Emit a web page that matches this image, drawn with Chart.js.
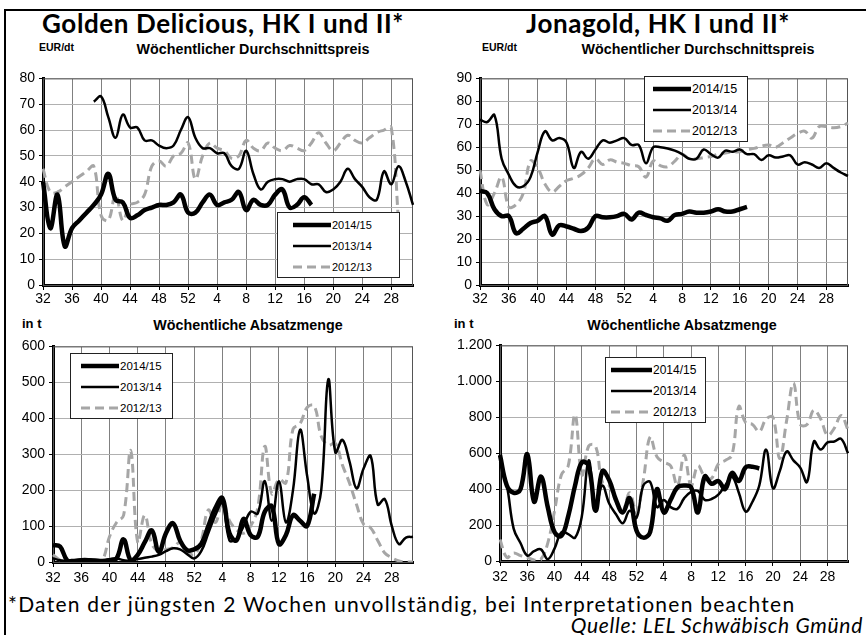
<!DOCTYPE html>
<html>
<head>
<meta charset="utf-8">
<script src="https://cdn.jsdelivr.net/npm/chart.js@4.4.1/dist/chart.umd.min.js"></script>
<style>
  body { margin: 0; background: #fff; }
  #page { position: relative; width: 866px; height: 635px; overflow: hidden; background: #fff; }
  .box { position: absolute; }
  .title { position: absolute; font-family: Lato, "Open Sans", sans-serif; font-weight: bold; font-size: 26px; line-height: 26px; letter-spacing: 0.6px; text-align: center; white-space: nowrap; }
  .unit, .sub { position: absolute; font-family: "Liberation Sans", Arial, sans-serif; font-weight: bold; line-height: 14px; white-space: nowrap; }
  .sub { text-align: center; font-size: 14.3px; }
  .legend { position: absolute; border: 1px solid #222; background: #fff; font-family: "Liberation Sans", Arial, sans-serif; }
  .legend .row { position: absolute; left: 0; right: 0; height: 14px; }
  .legend svg { position: absolute; top: 0; }
  .legend span { position: absolute; top: 0; line-height: 14px; white-space: nowrap; }
  .foot { position: absolute; font-family: Lato, "Open Sans", sans-serif; font-size: 21px; white-space: nowrap; }
</style>
</head>
<body>
<div id="page">
  <div style="position:absolute;left:4px;top:9px;width:2px;height:630px;background:#000"></div>
  <div style="position:absolute;left:4px;top:9px;width:870px;height:2px;background:#000"></div>

  <div class="title" style="left:23px;top:10px;width:400px">Golden Delicious, HK I und II*</div>
  <div class="title" style="left:458px;top:10px;width:400px">Jonagold, HK I und II*</div>

  <div class="unit" style="left:39px;top:40px;font-size:10.5px">EUR/dt</div>
  <div class="sub" style="left:103px;top:42px;width:300px">Wöchentlicher Durchschnittspreis</div>
  <div class="unit" style="left:482px;top:40px;font-size:10.5px">EUR/dt</div>
  <div class="sub" style="left:548px;top:42px;width:300px">Wöchentlicher Durchschnittspreis</div>
  <div class="unit" style="left:22px;top:317px;font-size:13px">in t</div>
  <div class="sub" style="left:98px;top:318px;width:300px">Wöchentliche Absatzmenge</div>
  <div class="unit" style="left:454px;top:317px;font-size:13px">in t</div>
  <div class="sub" style="left:532px;top:318px;width:300px">Wöchentliche Absatzmenge</div>

  <div class="box" style="left:0px;top:66px;width:420px;height:244px"><canvas id="c1" width="420" height="244"></canvas></div>
  <div class="box" style="left:440px;top:66px;width:415px;height:244px"><canvas id="c2" width="415" height="244"></canvas></div>
  <div class="box" style="left:0px;top:334px;width:420px;height:256px"><canvas id="c3" width="420" height="256"></canvas></div>
  <div class="box" style="left:440px;top:333px;width:415px;height:257px"><canvas id="c4" width="415" height="257"></canvas></div>

  <div class="foot" style="left:8px;top:591px;letter-spacing:1.25px">*Daten der jüngsten 2 Wochen unvollständig, bei Interpretationen beachten</div>
  <div class="foot" style="right:3px;top:612px;font-style:italic;letter-spacing:0.7px">Quelle: LEL Schwäbisch Gmünd</div>
</div>

<script>
// Kalenderwochen 32..52, 1..31
const weeks = [32,33,34,35,36,37,38,39,40,41,42,43,44,45,46,47,48,49,50,51,52,
    1,2,3,4,5,6,7,8,9,10,11,12,13,14,15,16,17,18,19,20,21,22,23,24,25,26,27,28,29,30,31];
const seasons = ['2014/15', '2013/14', '2012/13'];

// Golden Delicious - Preis EUR/dt
const goldenPreis15 = [40,22,35,15,22,25,28,31,35,43,33,32,26,27,29,30,31,31,32,35,28,
    28,32,35,31,32,33,36,29,33,31,31,35,37,30,31,34,31,
    null,null,null,null,null,null,null,null,null,null,null,null,null,null];
const goldenPreis14 = [null,null,null,null,null,null,null,71,73,65,57,66,61,61,56,56,54,53,54,60,65,
    57,53,53,51,51,46,45,52,43,37,40,41,41,40,41,41,39,39,36,37,40,45,41,38,34,33,44,39,46,40,31];
const goldenPreis13 = [45,36,36,38,40,42,44,46,27,25,35,25,31,32,35,46,48,46,50,51,55,
    41,50,55,53,52,49,50,56,53,52,55,53,52,54,53,52,55,59,55,52,55,58,56,55,57,59,60,61,25,null,null];

// Jonagold - Preis EUR/dt
const jonaPreis15 = [41,40,33,30,30,22.5,24.5,27,28,30,22,26,25.5,24.5,23.5,25,30,29.5,29.5,30,31,
    28.5,31.5,30.5,29.5,29,28,30.5,31,32,31.5,31.5,32,33,32,32,33,34,
    null,null,null,null,null,null,null,null,null,null,null,null,null,null];
const jonaPreis14 = [72,71,74,55,48,43,43,47,58,67,63,64,62,51,58,55,59,63,62,63,64,
    61,61,53,60,60,59.5,58.5,57,55,55,59,57,55.5,58.5,58,59,57,57,54.5,56.5,55.5,56,56.5,52.5,53.5,52.5,51,53,51,49,47.5];
const jonaPreis13 = [50,35,40,47,34,35,40,54,51,44,40.5,43,45.5,46.5,48,51,55,52.5,54.5,53.5,53,
    52,51.5,47,54,52,51.5,54,57,55,55,55.5,56,57,57.5,58,58,59,59.5,60.5,61,60,62,64,66,67,64,69,69,68.5,69,70.5];

// Golden Delicious - Absatz in t
const goldenMenge15 = [47,43,5,3,4,5,4,3,5,10,63,5,20,55,88,28,80,108,60,33,35,
    50,100,150,178,80,60,120,75,70,140,155,50,75,130,115,100,190,
    null,null,null,null,null,null,null,null,null,null,null,null,null,null];
const goldenMenge14 = [10,5,3,5,8,8,5,3,8,10,5,3,8,12,15,20,30,38,35,22,10,
    30,80,130,165,60,65,100,140,135,225,115,225,110,200,368,240,135,200,508,305,340,280,205,260,295,160,175,100,50,68,70];
const goldenMenge13 = [20,5,0,0,0,0,0,5,70,110,130,310,55,130,50,30,35,40,55,30,20,
    60,145,110,165,115,90,80,100,150,322,190,230,220,370,385,430,435,350,325,330,270,220,160,105,95,60,25,12,3,0,0];

// Jonagold - Absatz in t
const jonaMenge15 = [590,420,380,400,595,330,470,300,160,140,250,420,550,530,280,500,450,340,270,350,170,
    130,160,400,270,340,410,420,410,270,470,430,445,400,490,445,522,525,515,
    null,null,null,null,null,null,null,null,null,null,null,null,null];
const jonaMenge14 = [550,420,180,100,30,55,65,10,70,160,150,130,250,560,300,420,320,260,210,280,240,
    420,440,300,340,300,290,350,385,390,340,345,370,420,470,380,275,330,420,620,405,500,610,560,520,440,665,620,660,665,680,600];
const jonaMenge13 = [120,20,45,30,20,5,10,100,280,480,530,815,480,640,640,440,420,330,280,380,270,
    450,690,580,550,530,420,590,420,530,470,460,540,560,590,860,770,760,720,790,800,570,780,990,760,760,840,790,700,740,810,730];

const styles = [
    { borderColor: '#000', borderWidth: 4.5 },
    { borderColor: '#000', borderWidth: 2.5 },
    { borderColor: '#a6a6a6', borderWidth: 3, borderDash: [9, 5] }
];

const framePlugin = {
    id: 'frame',
    beforeDatasetsDraw(chart) {
        const a = chart.chartArea, c = chart.ctx;
        c.save();
        c.strokeStyle = '#555';
        c.lineWidth = 1;
        c.strokeRect(a.left + 0.5, a.top + 0.5, a.right - a.left - 1, a.bottom - a.top);
        c.restore();
    }
};

function dots(v) {
    return String(v).replace(/\B(?=(\d{3})+(?!\d))/g, '.');
}

function makeChart(id, series, yMax, yStep, yWidth, xHeight, rightPad, xPad) {
    new Chart(document.getElementById(id), {
        type: 'line',
        data: {
            labels: weeks,
            datasets: series.map((d, k) => Object.assign({
                label: seasons[k],
                data: d,
                pointRadius: 0,
                tension: 0.4,
                fill: false
            }, styles[k]))
        },
        options: {
            responsive: false,
            animation: false,
            layout: { padding: { top: 10, right: rightPad, left: 0, bottom: 0 } },
            plugins: { legend: { display: false }, tooltip: { enabled: false } },
            scales: {
                x: {
                    afterFit: s => { s.height = xHeight; },
                    border: { color: '#000', width: 3 },
                    grid: {
                        color: c => c.index % 4 === 0 ? '#808080' : 'rgba(0,0,0,0)',
                        tickColor: c => c.index % 4 === 0 ? '#000' : 'rgba(0,0,0,0)',
                        tickLength: 5
                    },
                    ticks: {
                        autoSkip: false,
                        maxRotation: 0,
                        padding: xPad,
                        color: '#000',
                        font: { family: 'Liberation Sans', size: 14 },
                        callback: (v, i) => i % 4 === 0 ? weeks[i] : ''
                    }
                },
                y: {
                    min: 0,
                    max: yMax,
                    afterFit: s => { s.width = yWidth; },
                    border: { color: '#000', width: 3 },
                    grid: { color: '#b0b0b0', tickColor: '#000', tickLength: 4 },
                    ticks: {
                        stepSize: yStep,
                        padding: 4,
                        color: '#000',
                        font: { family: 'Liberation Sans', size: 14 },
                        callback: v => dots(v)
                    }
                }
            }
        },
        plugins: [framePlugin]
    });
}

makeChart('c1', [goldenPreis15, goldenPreis14, goldenPreis13], 80, 10, 43, 25, 7, 1);
makeChart('c2', [jonaPreis15, jonaPreis14, jonaPreis13], 90, 10, 40, 25, 7, 1);
makeChart('c3', [goldenMenge15, goldenMenge14, goldenMenge13], 600, 100, 53, 28, 7, 3);
makeChart('c4', [jonaMenge15, jonaMenge14, jonaMenge13], 1200, 200, 60, 29, 7, 3);

// Legenden im Diagramm
function legend(left, top, width, x0, x1, fontSize) {
    const box = document.createElement('div');
    box.className = 'legend';
    Object.assign(box.style, { left: left + 'px', top: top + 'px', width: width + 'px', height: '64px' });
    seasons.forEach((s, k) => {
        const row = document.createElement('div');
        row.className = 'row';
        row.style.top = (5 + k * 21) + 'px';
        const st = styles[k];
        row.innerHTML = '<svg width="' + (x1 + 2) + '" height="14"><line x1="' + x0 + '" y1="7" x2="' + x1 + '" y2="7" stroke="' + st.borderColor +
            '" stroke-width="' + st.borderWidth + '"' + (st.borderDash ? ' stroke-dasharray="' + st.borderDash.join(',') + '"' : '') + '/></svg>' +
            '<span style="left:' + (x1 + 1) + 'px;font-size:' + fontSize + 'px">' + s + '</span>';
        box.appendChild(row);
    });
    document.getElementById('page').appendChild(box);
}
legend(277, 212, 121, 15, 53, 11);
legend(644, 76, 102, 8, 46, 12.5);
legend(70, 353, 101, 10, 48, 11.5);
legend(605, 357, 99, 5, 46, 12);
</script>
</body>
</html>
